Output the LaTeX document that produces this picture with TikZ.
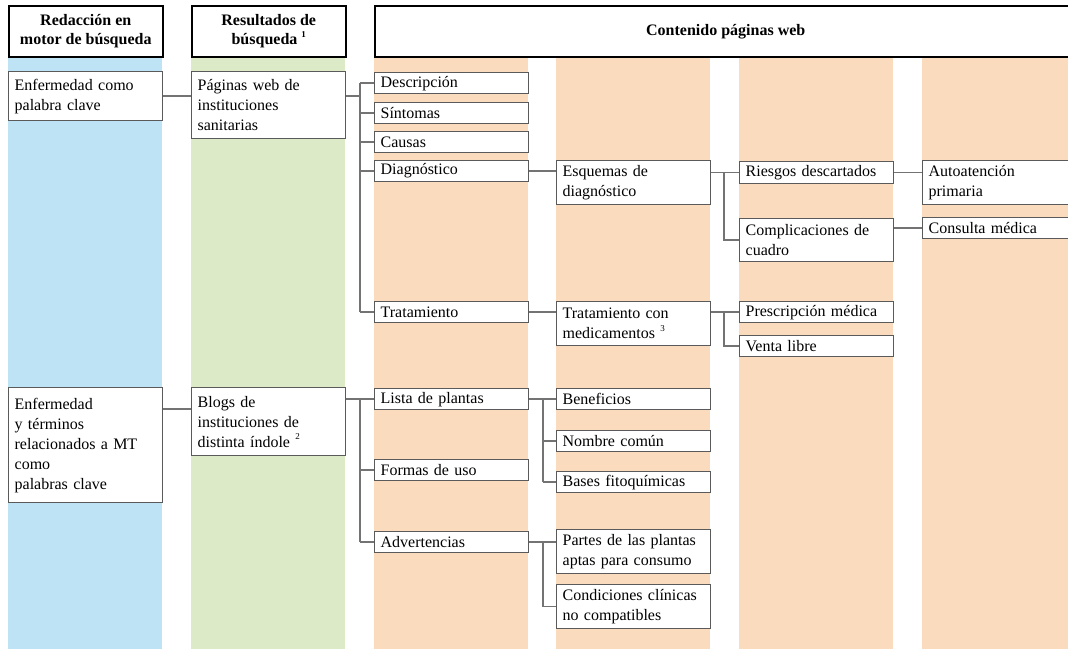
\documentclass[tikz,border=0pt]{standalone}
\usepackage{fontspec}
\setmainfont{Liberation Serif}
\definecolor{azul}   {RGB}{190,227,245}
\definecolor{verde}  {RGB}{220,234,199}
\definecolor{naranja}{RGB}{250,219,190}
\definecolor{borde}  {RGB}{ 90, 90, 90}
\definecolor{linea}  {RGB}{115,115,115}
\newcommand{\nt}[1]{\raisebox{0.45em}{\fontsize{9}{9}\selectfont #1}}

\begin{document}
\begin{tikzpicture}[x=1pt, y=-1pt,
  caja/.style={draw=borde, line width=1.3pt, fill=white, anchor=north west,
    text width=142pt, inner xsep=6pt, inner ysep=2pt, align=left,
    minimum height=21pt, font=\fontsize{16}{20}\selectfont},
  cab/.style={draw=black, line width=1.5pt, fill=white, anchor=north west,
    minimum width=154pt, minimum height=51pt, align=center,
    font=\fontsize{16}{19}\selectfont\bfseries},
  enlace/.style={draw=linea, line width=1.5pt}]
  \clip (0,0) rectangle (1068,649);
  % columnas
  \fill[azul ] (  8, 57) rectangle (162,649);
  \fill[verde] (191, 57) rectangle (345,649);
  \foreach \x in {374,556,739,922}
    \fill[naranja] (\x, 57) rectangle ++(154,592);
  % encabezados
  \node[cab] (h1) at (  8,  5) {Redacción en\\motor de búsqueda};
  \node[cab] (h2) at (191,  5) {Resultados de\\búsqueda \nt{1}};
  \node[cab, minimum width=702pt] (h3) at (374,  5) {Contenido páginas web};
  % nivel 1
  \node[caja, minimum height= 49pt] (enfA) at (  8, 71) {Enfermedad como\\palabra clave};
  \node[caja, minimum height=115pt] (enfB) at (  8,387) {Enfermedad\\y términos\\relacionados a MT\\como\\palabras clave};
  % nivel 2
  \node[caja, minimum height= 67pt] (pag) at (191, 71) {Páginas web de\\instituciones\\sanitarias};
  \node[caja, minimum height= 68pt] (blogs) at (191,387) {Blogs de\\instituciones de\\distinta índole \nt{2}};
  % nivel 3
  \node[caja] (desc) at (374, 72) {Descripción};
  \node[caja] (sint) at (374,102) {Síntomas};
  \node[caja] (caus) at (374,131) {Causas};
  \node[caja] (diag) at (374,160) {Diagnóstico};
  \node[caja] (trat) at (374,301) {Tratamiento};
  \node[caja] (lista) at (374,388) {Lista de plantas};
  \node[caja] (formas) at (374,459) {Formas de uso};
  \node[caja] (adv) at (374,531) {Advertencias};
  % nivel 4
  \node[caja, minimum height=44pt] (esq) at (556,160) {Esquemas de\\diagnóstico};
  \node[caja, minimum height=44pt] (tcm) at (556,301) {Tratamiento con\\medicamentos \nt{3}};
  \node[caja] (benef) at (556,388) {Beneficios};
  \node[caja] (nomb) at (556,430) {Nombre común};
  \node[caja] (bases) at (556,471) {Bases fitoquímicas};
  \node[caja, minimum height=44pt] (partes) at (556,529) {Partes de las plantas\\aptas para consumo};
  \node[caja, minimum height=44pt] (cond) at (556,584) {Condiciones clínicas\\no compatibles};
  % nivel 5
  \node[caja, minimum height=22pt] (ries) at (739,161) {Riesgos descartados};
  \node[caja, minimum height=43pt] (comp) at (739,218) {Complicaciones de\\cuadro};
  \node[caja] (presc) at (739,301) {Prescripción médica};
  \node[caja] (venta) at (739,335) {Venta libre};
  % nivel 6
  \node[caja, minimum height=44pt] (auto) at (922,160) {Autoatención\\primaria};
  \node[caja] (cons) at (922,217) {Consulta médica};
  % troncos
  \coordinate (b1) at (360,0);
  \coordinate (b2) at (543,0);
  \coordinate (b3) at (724,0);
  % enlaces
  \draw[enlace] (enfA.east) -- (enfA.east -| pag.west);
  \draw[enlace] (pag.east |- enfA.east) -- (b1 |- enfA.east);
  \draw[enlace] (b1 |- desc.west) -- (b1 |- trat.west);
  \foreach \n in {desc,sint,caus,diag,trat}
    \draw[enlace] (b1 |- \n.west) -- (\n.west);
  \draw[enlace] (diag.east) -- (diag.east -| esq.west);
  \draw[enlace] (trat.east) -- (trat.east -| tcm.west);
  \draw[enlace] (esq.east |- ries.west) -- (ries.west);
  \draw[enlace] (b3 |- ries.west) -- (b3 |- comp.west) -- (comp.west);
  \draw[enlace] (ries.east) -- (ries.east -| auto.west);
  \draw[enlace] (comp.east |- cons.west) -- (cons.west);
  \draw[enlace] (tcm.east |- presc.west) -- (presc.west);
  \draw[enlace] (b3 |- presc.west) -- (b3 |- venta.west) -- (venta.west);
  \draw[enlace] ([yshift=-22pt]enfB.north east) -- ([yshift=-22pt]enfB.north east -| blogs.west);
  \draw[enlace] (blogs.east |- lista.west) -- (lista.west);
  \draw[enlace] (b1 |- lista.west) -- (b1 |- adv.west);
  \foreach \n in {formas,adv}
    \draw[enlace] (b1 |- \n.west) -- (\n.west);
  \draw[enlace] (lista.east) -- (lista.east -| benef.west);
  \draw[enlace] (b2 |- benef.west) -- (b2 |- bases.west);
  \foreach \n in {nomb,bases}
    \draw[enlace] (b2 |- \n.west) -- (\n.west);
  \draw[enlace] (adv.east) -- (adv.east -| partes.west);
  \draw[enlace] (b2 |- adv.east) -- (b2 |- cond.west) -- (cond.west);
\end{tikzpicture}
\end{document}
